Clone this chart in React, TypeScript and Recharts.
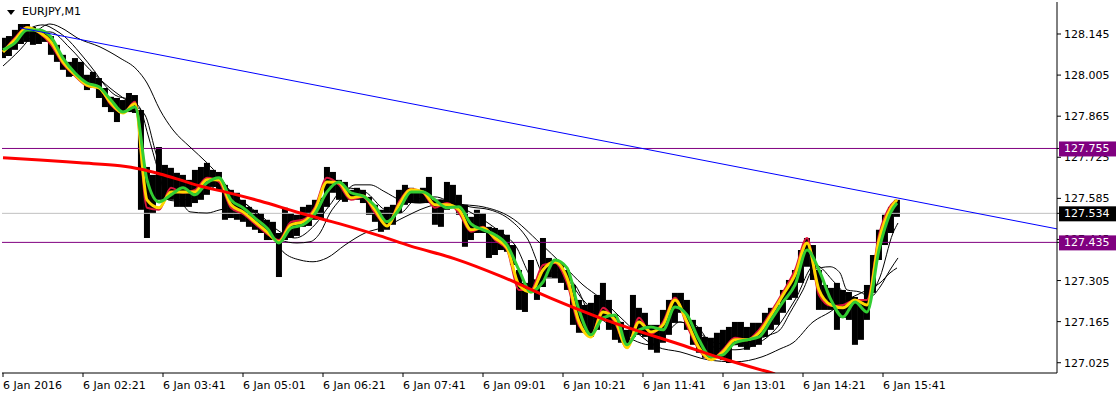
import { ComposedChart, Bar, Line, XAxis, YAxis, ReferenceLine } from "recharts";

const FONT = "Tahoma, 'DejaVu Sans', sans-serif";

// price scale of the window
const Y_MIN = 126.99;
const Y_MAX = 128.254;
const Y_TICKS = [127.025, 127.165, 127.305, 127.445, 127.585, 127.725, 127.865, 128.005, 128.145];

// minutes since the first visible bar (01:01)
const X_MIN = -1;
const X_MAX = 1054;
const X_TICKS = [0, 80, 160, 240, 320, 400, 480, 560, 640, 720, 800, 880];
const X_LABELS = [
  "6 Jan 2016", "6 Jan 02:21", "6 Jan 03:41", "6 Jan 05:01", "6 Jan 06:21", "6 Jan 07:41",
  "6 Jan 09:01", "6 Jan 10:21", "6 Jan 11:41", "6 Jan 13:01", "6 Jan 14:21", "6 Jan 15:41",
];

// candles, grouped every 6 minutes
const CANDLE_STEP = 6;
const candleHigh = [
  128.132, 128.138, 128.159, 128.179, 128.179, 128.169, 128.159, 128.152, 128.138, 128.108,
  128.074, 128.050, 128.063, 128.050, 128.006, 128.016, 127.995, 127.961, 127.931, 127.927,
  127.920, 127.944, 127.937, 127.886, 127.692, 127.665, 127.760, 127.699, 127.689, 127.672,
  127.665, 127.648, 127.682, 127.692, 127.706, 127.682, 127.675, 127.631, 127.614, 127.604,
  127.580, 127.556, 127.546, 127.535, 127.512, 127.505, 127.467, 127.553, 127.535, 127.529,
  127.556, 127.563, 127.580, 127.587, 127.692, 127.675, 127.648, 127.641, 127.614, 127.621,
  127.614, 127.590, 127.563, 127.546, 127.556, 127.563, 127.614, 127.631, 127.621, 127.614,
  127.621, 127.658, 127.580, 127.580, 127.641, 127.631, 127.597, 127.563, 127.522, 127.546,
  127.535, 127.488, 127.484, 127.478, 127.461, 127.426, 127.341, 127.297, 127.375, 127.307,
  127.450, 127.382, 127.369, 127.365, 127.341, 127.290, 127.239, 127.222, 127.229, 127.256,
  127.297, 127.239, 127.188, 127.164, 127.137, 127.256, 127.212, 127.195, 127.154, 127.154,
  127.205, 127.239, 127.263, 127.263, 127.239, 127.171, 127.147, 127.113, 127.110, 127.127,
  127.137, 127.147, 127.164, 127.164, 127.147, 127.161, 127.161, 127.195, 127.212, 127.222,
  127.273, 127.307, 127.341, 127.409, 127.450, 127.426, 127.341, 127.290, 127.280, 127.297,
  127.273, 127.266, 127.249, 127.239, 127.290, 127.392, 127.478, 127.529, 127.556, 127.580,
];
const candleLow = [
  128.063, 128.070, 128.091, 128.111, 128.118, 128.108, 128.111, 128.118, 128.074, 128.050,
  128.023, 127.999, 128.002, 127.988, 127.954, 127.961, 127.927, 127.896, 127.879, 127.845,
  127.876, 127.879, 127.876, 127.546, 127.450, 127.535, 127.580, 127.580, 127.580, 127.556,
  127.556, 127.556, 127.569, 127.580, 127.597, 127.624, 127.614, 127.512, 127.518, 127.512,
  127.505, 127.488, 127.478, 127.467, 127.443, 127.443, 127.317, 127.443, 127.450, 127.457,
  127.488, 127.491, 127.512, 127.518, 127.556, 127.604, 127.580, 127.573, 127.580, 127.580,
  127.569, 127.529, 127.505, 127.471, 127.478, 127.495, 127.535, 127.563, 127.569, 127.569,
  127.569, 127.569, 127.495, 127.488, 127.546, 127.556, 127.529, 127.420, 127.443, 127.467,
  127.467, 127.382, 127.392, 127.409, 127.403, 127.358, 127.205, 127.198, 127.263, 127.239,
  127.283, 127.317, 127.314, 127.297, 127.273, 127.154, 127.127, 127.127, 127.113, 127.137,
  127.181, 127.137, 127.103, 127.093, 127.079, 127.113, 127.120, 127.113, 127.069, 127.059,
  127.093, 127.120, 127.161, 127.195, 127.137, 127.086, 127.059, 127.042, 127.035, 127.042,
  127.035, 127.024, 127.086, 127.079, 127.069, 127.079, 127.086, 127.113, 127.137, 127.154,
  127.195, 127.239, 127.246, 127.297, 127.352, 127.307, 127.205, 127.205, 127.205, 127.137,
  127.178, 127.171, 127.086, 127.103, 127.171, 127.263, 127.375, 127.426, 127.467, 127.522,
];

// fast averages (crimson, gold, green)
const maTimes = [
  0, 12, 24, 36, 48, 60, 72, 84, 96, 108, 120, 132, 144, 156, 168, 180, 192, 204, 216, 228,
  240, 252, 264, 276, 288, 300, 312, 324, 336, 348, 360, 372, 384, 396, 408, 420, 432, 444, 456, 468,
  480, 492, 504, 516, 528, 540, 552, 564, 576, 588, 600, 612, 624, 636, 648, 660, 672, 684, 696, 708,
  720, 732, 744, 756, 768, 780, 792, 804, 816, 828, 840, 852, 864, 876, 888, 894,
];
const greenMA = [
  128.091, 128.115, 128.159, 128.159, 128.135, 128.063, 128.012, 127.978, 127.965, 127.920,
  127.879, 127.896, 127.648, 127.573, 127.597, 127.621, 127.597, 127.638, 127.655, 127.580,
  127.553, 127.518, 127.484, 127.433, 127.484, 127.495, 127.532, 127.607, 127.641, 127.604,
  127.593, 127.559, 127.505, 127.546, 127.607, 127.607, 127.580, 127.553, 127.556, 127.498,
  127.478, 127.461, 127.426, 127.341, 127.266, 127.300, 127.375, 127.348, 127.205, 127.120,
  127.178, 127.188, 127.086, 127.137, 127.147, 127.137, 127.215, 127.188, 127.103, 127.045,
  127.052, 127.093, 127.103, 127.113, 127.171, 127.232, 127.290, 127.409, 127.341, 127.239,
  127.181, 127.232, 127.198, 127.409, 127.539, 127.569,
];
const goldMA = [
  128.084, 128.125, 128.166, 128.152, 128.118, 128.050, 128.006, 127.971, 127.961, 127.910,
  127.876, 127.907, 127.580, 127.553, 127.607, 127.607, 127.607, 127.648, 127.648, 127.563,
  127.539, 127.505, 127.471, 127.437, 127.495, 127.505, 127.546, 127.641, 127.638, 127.587,
  127.593, 127.546, 127.491, 127.563, 127.614, 127.607, 127.563, 127.563, 127.546, 127.478,
  127.484, 127.450, 127.416, 127.290, 127.266, 127.341, 127.369, 127.314, 127.164, 127.113,
  127.198, 127.171, 127.076, 127.164, 127.130, 127.154, 127.239, 127.164, 127.076, 127.035,
  127.062, 127.103, 127.103, 127.127, 127.188, 127.256, 127.324, 127.433, 127.273, 127.222,
  127.212, 127.239, 127.222, 127.443, 127.553, 127.580,
];
const crimsonMA = [
  128.084, 128.132, 128.169, 128.149, 128.108, 128.043, 128.002, 127.968, 127.961, 127.903,
  127.876, 127.914, 127.553, 127.546, 127.621, 127.604, 127.614, 127.655, 127.641, 127.553,
  127.532, 127.498, 127.464, 127.443, 127.505, 127.512, 127.556, 127.655, 127.631, 127.580,
  127.590, 127.535, 127.491, 127.573, 127.617, 127.604, 127.553, 127.569, 127.535, 127.471,
  127.488, 127.443, 127.409, 127.273, 127.273, 127.358, 127.365, 127.297, 127.151, 127.117,
  127.212, 127.161, 127.076, 127.178, 127.123, 127.164, 127.246, 127.151, 127.069, 127.035,
  127.069, 127.110, 127.103, 127.137, 127.198, 127.266, 127.341, 127.450, 127.256, 127.219,
  127.222, 127.239, 127.239, 127.461, 127.563, 127.580,
];

// thin black averages
const fastTimes = [
  0, 27, 47, 67, 87, 107, 127, 142, 152, 162, 177, 197, 217, 237, 257, 277, 292, 312, 327, 342,
  362, 382, 397, 412, 432, 452, 472, 492, 512, 532, 552, 572, 592, 612, 632, 652, 672, 692, 712, 732,
  752, 772, 792, 812, 832, 847, 860, 877, 890, 895,
];
const fastMA = [
  128.074, 128.142, 128.152, 128.097, 128.023, 127.961, 127.910, 127.869, 127.750, 127.631,
  127.580, 127.593, 127.631, 127.580, 127.529, 127.471, 127.450, 127.495, 127.563, 127.621,
  127.607, 127.546, 127.535, 127.580, 127.590, 127.563, 127.529, 127.484, 127.426, 127.307,
  127.334, 127.290, 127.171, 127.171, 127.127, 127.120, 127.164, 127.154, 127.076, 127.069,
  127.086, 127.137, 127.239, 127.358, 127.297, 127.246, 127.239, 127.317, 127.467, 127.501,
];
const medTimes = [
  0, 17, 30, 40, 52, 62, 77, 92, 100, 112, 127, 137, 145, 155, 165, 177, 187, 204, 217, 237,
  250, 264, 277, 294, 307, 317, 327, 337, 352, 367, 382, 397, 417, 437, 452, 467, 487, 507, 524, 544,
  560, 580, 597, 614, 630, 647, 662, 677, 692, 712, 732, 752, 767, 777, 787, 800, 810, 827, 837, 844,
  857, 867, 877, 887, 895,
];
const medMA = [
  128.063, 128.125, 128.169, 128.176, 128.159, 128.135, 128.080, 128.016, 127.978, 127.937,
  127.920, 127.893, 127.801, 127.682, 127.580, 127.573, 127.539, 127.535, 127.546, 127.556,
  127.522, 127.478, 127.443, 127.433, 127.437, 127.467, 127.535, 127.580, 127.631, 127.631,
  127.607, 127.580, 127.569, 127.580, 127.569, 127.556, 127.546, 127.512, 127.450, 127.314,
  127.314, 127.239, 127.178, 127.137, 127.103, 127.086, 127.120, 127.164, 127.137, 127.093,
  127.086, 127.103, 127.120, 127.137, 127.195, 127.273, 127.341, 127.352, 127.331, 127.273,
  127.266, 127.249, 127.283, 127.341, 127.382,
];
const slowTimes = [
  0, 17, 32, 47, 62, 74, 97, 117, 134, 144, 157, 170, 187, 204, 217, 230, 244, 262, 280, 297,
  310, 324, 342, 362, 382, 402, 422, 442, 462, 480, 507, 537, 560, 580, 597, 617, 634, 654, 677, 705,
  732, 759, 777, 790, 810, 827, 844, 860, 877, 887, 894,
];
const slowMA = [
  128.036, 128.091, 128.149, 128.179, 128.159, 128.132, 128.101, 128.063, 128.023, 127.978,
  127.886, 127.818, 127.760, 127.706, 127.658, 127.597, 127.563, 127.495, 127.403, 127.375,
  127.369, 127.382, 127.426, 127.467, 127.488, 127.522, 127.553, 127.569, 127.563, 127.556,
  127.522, 127.433, 127.358, 127.290, 127.246, 127.181, 127.127, 127.079, 127.062, 127.035,
  127.028, 127.045, 127.072, 127.093, 127.164, 127.198, 127.239, 127.266, 127.297, 127.331,
  127.348,
];

// long red average
const redTimes = [0, 37, 77, 117, 137, 157, 177, 197, 222, 257, 297, 337, 377, 407, 452, 497, 547, 597, 647, 672, 717, 772];
const redMA = [
  127.723, 127.716, 127.706, 127.696, 127.685, 127.668, 127.648, 127.627, 127.607, 127.576,
  127.535, 127.498, 127.457, 127.423, 127.379, 127.321, 127.246, 127.178, 127.120, 127.093,
  127.042, 126.987,
];

// trendline and horizontal levels
const trendTimes = [17, 1054];
const trendPrices = [128.166, 127.481];
const LEVEL_HIGH = 127.755;
const LEVEL_LOW = 127.435;
const BID = 127.534;
const TAGS: { [key: string]: string } = {
  [LEVEL_HIGH.toFixed(3)]: "#800080",
  [BID.toFixed(3)]: "#000000",
  [LEVEL_LOW.toFixed(3)]: "#800080",
};

const candles = candleHigh.map((h, k) => ({ t: k * CANDLE_STEP, range: [candleLow[k], h] }));
const series = (times: number[], values: number[]) => times.map((t, k) => ({ t, v: values[k] }));

const TimeTick = (props: any) => {
  const { x, y, payload } = props;
  const k = X_TICKS.indexOf(payload.value);
  return (
    <text x={x} y={y + 10} fontSize={11} fontFamily={FONT} fill="#000" textAnchor="start">
      {X_LABELS[k]}
    </text>
  );
};

// price scale labels; the level tags come last so they sit on top of the plain ones
const PriceTick = (props: any) => {
  const { x, y, payload } = props;
  const label = Number(payload.value).toFixed(3);
  const bg = TAGS[label];
  if (bg) {
    return (
      <g>
        <rect x={x - 5} y={y - 7} width={57} height={15} fill={bg} />
        <text x={x} y={y + 4} fontSize={11} fontFamily={FONT} fill="#fff">
          {label}
        </text>
      </g>
    );
  }
  return (
    <text x={x} y={y + 4} fontSize={11} fontFamily={FONT} fill="#000">
      {label}
    </text>
  );
};

// one candle group: a solid black stick covering its 6 minutes
const Candle = (props: any) => {
  const { x, y, width, height } = props;
  const top = Math.min(y, y + height);
  return <rect x={x + width / 2 - 3} y={top} width={6} height={Math.max(Math.abs(height), 1)} fill="#000" />;
};

const maLine = (data: any[], color: string, width: number, key: string) => (
  <Line
    key={key}
    data={data}
    dataKey="v"
    type="monotone"
    stroke={color}
    strokeWidth={width}
    dot={false}
    activeDot={false}
    isAnimationActive={false}
  />
);

export default function App() {
  return (
    <div style={{ position: "absolute", left: 0, top: 0, width: 1117, height: 397, background: "#fff" }}>
      <ComposedChart width={1117} height={397} data={candles} margin={{ top: 2, right: 0, bottom: 0, left: 2 }}>
        <XAxis
          dataKey="t"
          type="number"
          domain={[X_MIN, X_MAX]}
          allowDataOverflow
          ticks={X_TICKS}
          interval={0}
          height={24}
          tickSize={4}
          axisLine={{ stroke: "#000" }}
          tickLine={{ stroke: "#000" }}
          tick={<TimeTick />}
        />
        <XAxis xAxisId="top" orientation="top" type="number" domain={[0, 1]} height={0} axisLine={{ stroke: "#000" }} tick={false} tickLine={false} />
        <YAxis
          orientation="right"
          width={60}
          domain={[Y_MIN, Y_MAX]}
          allowDataOverflow
          ticks={[...Y_TICKS, LEVEL_HIGH, BID, LEVEL_LOW]}
          interval={0}
          tickSize={4}
          tickMargin={3}
          axisLine={{ stroke: "#000" }}
          tickLine={{ stroke: "#000" }}
          tick={<PriceTick />}
        />
        <YAxis yAxisId="left" orientation="left" width={0} domain={[0, 1]} axisLine={{ stroke: "#000" }} tick={false} tickLine={false} />

        <ReferenceLine y={LEVEL_HIGH} stroke="#800080" />
        <ReferenceLine y={BID} stroke="#c0c0c0" />
        <ReferenceLine y={LEVEL_LOW} stroke="#800080" />

        <Bar dataKey="range" barSize={6} fill="#000" shape={<Candle />} isAnimationActive={false} />

        {maLine(series(slowTimes, slowMA), "#000", 1, "slow")}
        {maLine(series(medTimes, medMA), "#000", 1, "med")}
        {maLine(series(fastTimes, fastMA), "#000", 1, "fast")}
        {maLine(series(maTimes, crimsonMA), "#dc143c", 2, "crimson")}
        {maLine(series(maTimes, goldMA), "#ffd700", 3, "gold")}
        {maLine(series(maTimes, greenMA), "#32cd32", 3, "green")}
        {maLine(series(redTimes, redMA), "#ff0000", 3, "red")}

        <ReferenceLine
          segment={[
            { x: trendTimes[0], y: trendPrices[0] },
            { x: trendTimes[1], y: trendPrices[1] },
          ]}
          stroke="#0000ff"
        />
      </ComposedChart>
      <div style={{ position: "absolute", left: 7, top: 10, width: 0, height: 0, borderLeft: "4px solid transparent", borderRight: "4px solid transparent", borderTop: "5px solid #000" }} />
      <div style={{ position: "absolute", left: 22, top: 5, fontSize: 11, lineHeight: "13px", fontFamily: FONT, color: "#000" }}>
        EURJPY,M1
      </div>
    </div>
  );
}
